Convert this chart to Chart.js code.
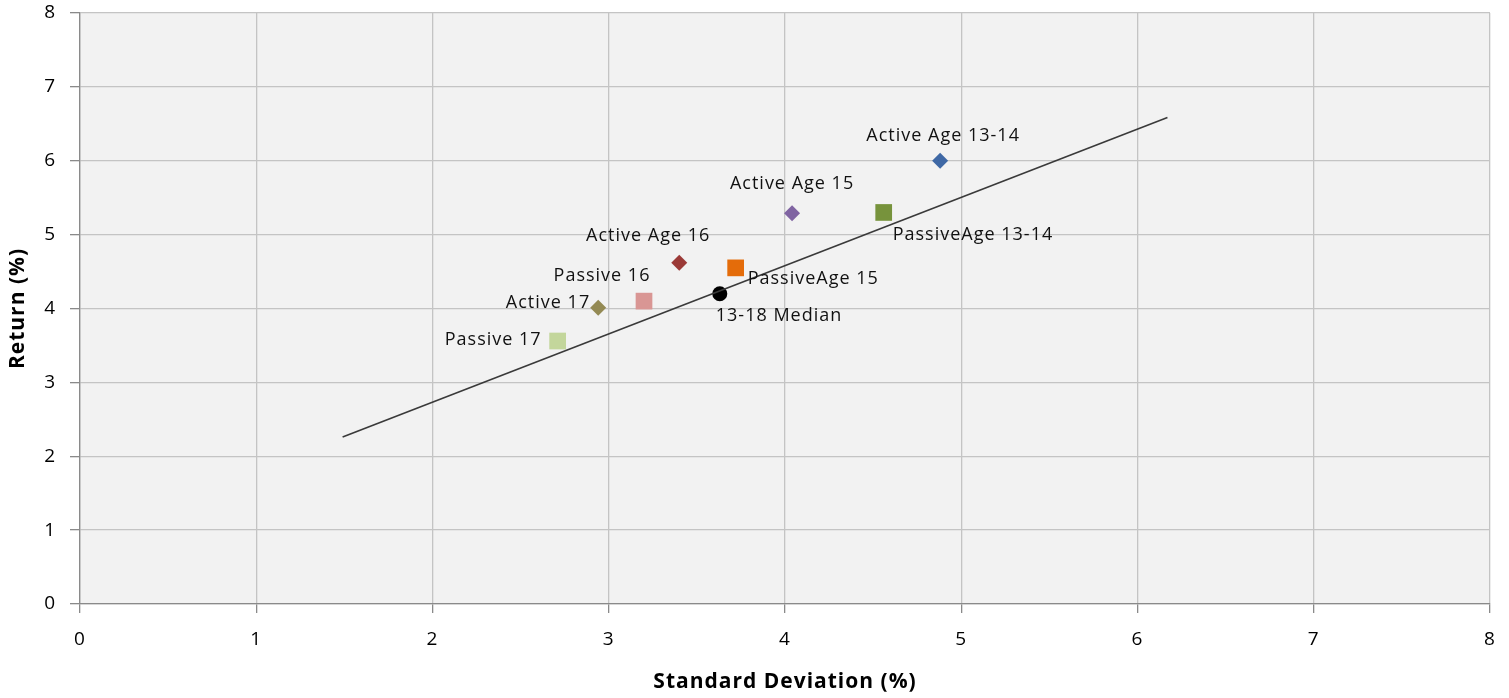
<!DOCTYPE html>
<html>
<head>
<meta charset="utf-8">
<script src="https://cdn.jsdelivr.net/npm/chart.js@4.4.1/dist/chart.umd.min.js"></script>
<style>
html,body{margin:0;padding:0;background:#fff;}
#wrap{width:1509px;height:698px;position:relative;}
</style>
</head>
<body>
<div id="wrap"><canvas id="c" width="1509" height="698"></canvas></div>
<script>
// ---- data ----
const seriesNames = ['Active Age 13-14','Active Age 15','PassiveAge 13-14','Active Age 16','PassiveAge 15','Passive 16','Active 17','13-18 Median','Passive 17'];
const stdDev = [4.88, 4.04, 4.56, 3.40, 3.72, 3.20, 2.94, 3.63, 2.71];
const returns = [6.00, 5.29, 5.30, 4.62, 4.55, 4.10, 4.01, 4.20, 3.56];
const trendX = [1.49, 6.17];
const trendY = [2.26, 6.585];
const xTicks = [0,1,2,3,4,5,6,7,8];
const yTicks = [0,1,2,3,4,5,6,7,8];

// ---- styles ----
const colors = ['#3F68A5','#8064A2','#77933C','#9B3A37','#E46C0A','#D99694','#948A54','#000000','#C3D69B'];
const shapes = ['rectRot','rectRot','rect','rectRot','rect','rect','rectRot','circle','rect'];
const radii  = [8,8,11.8,8,11.8,11.8,8,7.5,11.8];
// label placement: [dx, dy, align]
const labelPos = [[3,-25,'center'],[0,-29,'center'],[9,22,'left'],[-31,-27,'center'],[12,11,'left'],[-42,-25,'center'],[-8,-5,'right'],[-4,22,'left'],[-16,-1,'right']];

const FONT = "'Open Sans', 'Liberation Sans', sans-serif";

const datasets = seriesNames.map((n,i)=>({
  label:n,
  data:[{x:stdDev[i], y:returns[i]}],
  pointStyle:shapes[i],
  pointRadius:radii[i],
  pointHoverRadius:radii[i],
  backgroundColor:colors[i],
  borderColor:colors[i],
  borderWidth:0,
  showLine:false
}));
datasets.unshift({
  label:'trend',
  data:trendX.map((x,i)=>({x:x,y:trendY[i]})),
  showLine:true,
  borderColor:'#3a3a3a',
  borderWidth:1.6,
  pointRadius:0,
  fill:false
});

const bgPlugin = {
  id:'bg',
  beforeDraw(chart){
    const {ctx, chartArea:a} = chart;
    ctx.letterSpacing = '1px';
    ctx.save();
    ctx.fillStyle = '#F2F2F2';
    ctx.fillRect(a.left, a.top, a.right-a.left, a.bottom-a.top);
    ctx.restore();
  }
};

const labelPlugin = {
  id:'lbl',
  afterDatasetsDraw(chart){
    const ctx = chart.ctx;
    ctx.save();
    ctx.font = "18px " + FONT;
    ctx.fillStyle = '#111';
    ctx.textBaseline = 'middle';
    seriesNames.forEach((n,i)=>{
      const pt = chart.getDatasetMeta(i+1).data[0];
      const p = labelPos[i];
      ctx.textAlign = p[2];
      ctx.fillText(n, pt.x + p[0], pt.y + p[1]);
    });
    ctx.restore();
  }
};

new Chart(document.getElementById('c'), {
  type:'scatter',
  data:{datasets:datasets},
  plugins:[bgPlugin, labelPlugin],
  options:{
    responsive:false,
    animation:false,
    events:[],
    layout:{padding:{top:13, right:19, left:0, bottom:0}},
    plugins:{legend:{display:false}, tooltip:{enabled:false}},
    scales:{
      x:{
        type:'linear', min:0, max:8,
        afterBuildTicks(s){ s.ticks = xTicks.map(v=>({value:v})); },
        afterFit(s){ s.height = 94; s.paddingLeft = 0; s.paddingRight = 0; },
        grid:{color:'#C4C4C4', lineWidth:1.3, tickLength:9, tickColor:'#8A8A8A'},
        border:{color:'#8A8A8A', width:1.3},
        ticks:{color:'#000', font:{family:FONT, size:19}, padding:15, maxRotation:0},
        title:{display:true, text:'Standard Deviation (%)', color:'#000', font:{family:FONT, size:21, weight:'bold'}, padding:{top:6,bottom:3}}
      },
      y:{
        type:'linear', min:0, max:8,
        afterBuildTicks(s){ s.ticks = yTicks.map(v=>({value:v})); },
        afterFit(s){ s.width = 80; s.paddingTop = 0; s.paddingBottom = 0; },
        grid:{color:'#C4C4C4', lineWidth:1.3, tickLength:10, tickColor:'#8A8A8A'},
        border:{color:'#8A8A8A', width:1.3},
        ticks:{color:'#000', font:{family:FONT, size:19}, padding:14},
        title:{display:true, text:'Return (%)', color:'#000', font:{family:FONT, size:21, weight:'bold'}, padding:{top:5,bottom:0}}
      }
    }
  }
});
</script>
</body>
</html>
